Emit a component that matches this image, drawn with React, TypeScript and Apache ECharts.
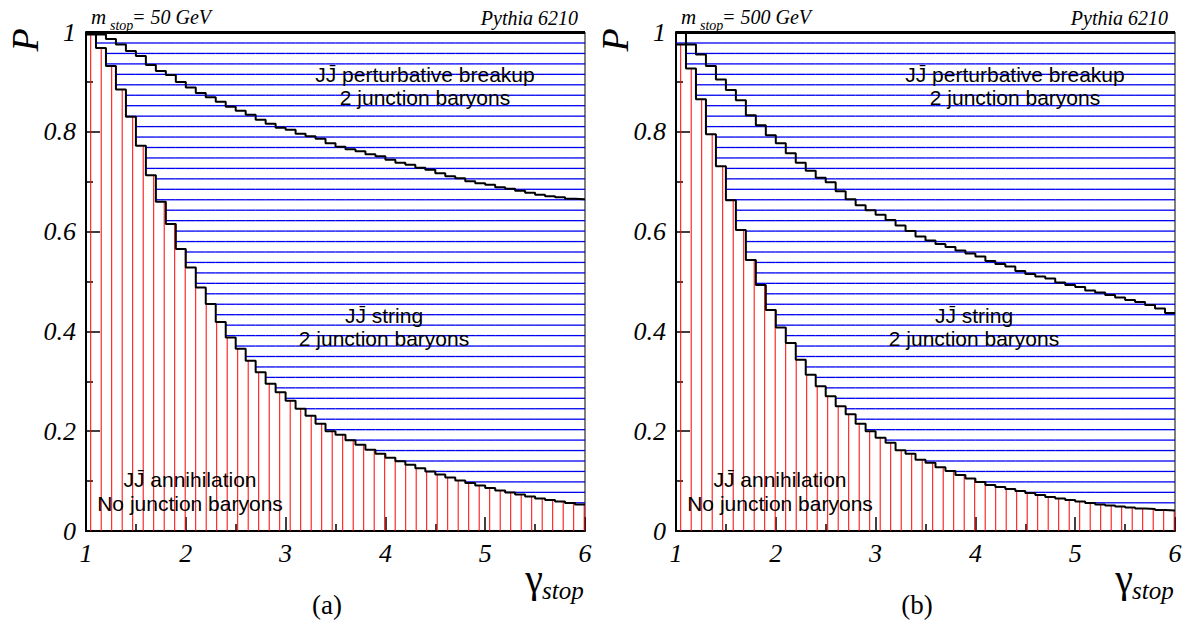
import React, { useEffect, useRef } from "react";
import * as echarts from "echarts";

// ---- axis ranges / binning ----
const X_MIN = 1;
const X_MAX = 6;
const BIN_WIDTH = 0.1;
const Y_MIN = 0;
const Y_MAX = 1;
const TOTAL_P = 1;

// ---- panel (a): m_stop = 50 GeV ----
// cumulative P below the "annihilation" boundary (lower staircase)
const annihilationA = [
  0.995, 0.968, 0.932, 0.885, 0.83, 0.772, 0.713, 0.66, 0.615, 0.565,
  0.528, 0.488, 0.455, 0.419, 0.388, 0.365, 0.341, 0.318, 0.295, 0.278,
  0.261, 0.245, 0.231, 0.215, 0.2, 0.193, 0.182, 0.173, 0.163, 0.155,
  0.147, 0.14, 0.133, 0.126, 0.119, 0.113, 0.107, 0.101, 0.096, 0.091,
  0.086, 0.081, 0.077, 0.073, 0.069, 0.065, 0.062, 0.059, 0.056, 0.053,
];
// cumulative P below the "perturbative breakup" boundary (upper staircase)
const stringA = [
  1.0, 0.995, 0.986, 0.975, 0.962, 0.952, 0.934, 0.922, 0.914, 0.9,
  0.889, 0.878, 0.869, 0.86, 0.85, 0.842, 0.834, 0.824, 0.816, 0.808,
  0.804, 0.796, 0.791, 0.786, 0.777, 0.77, 0.765, 0.761, 0.755, 0.751,
  0.744, 0.738, 0.734, 0.728, 0.724, 0.717, 0.711, 0.707, 0.701, 0.697,
  0.694, 0.689, 0.686, 0.682, 0.678, 0.674, 0.671, 0.669, 0.666, 0.665,
];

// ---- panel (b): m_stop = 500 GeV ----
const annihilationB = [
  0.975, 0.927, 0.865, 0.795, 0.731, 0.663, 0.603, 0.543, 0.493, 0.443,
  0.408, 0.377, 0.343, 0.313, 0.29, 0.27, 0.25, 0.234, 0.215, 0.2,
  0.187, 0.177, 0.162, 0.155, 0.143, 0.137, 0.128, 0.12, 0.112, 0.105,
  0.098, 0.092, 0.088, 0.084, 0.08, 0.076, 0.072, 0.068, 0.065, 0.062,
  0.059, 0.056, 0.053, 0.051, 0.049, 0.047, 0.045, 0.044, 0.042, 0.041,
];
const stringB = [
  1.0, 0.975, 0.955, 0.932, 0.905, 0.884, 0.863, 0.833, 0.813, 0.793,
  0.777, 0.757, 0.738, 0.722, 0.708, 0.699, 0.681, 0.665, 0.653, 0.643,
  0.634, 0.623, 0.612, 0.601, 0.59, 0.582, 0.575, 0.569, 0.562, 0.556,
  0.55, 0.541, 0.535, 0.53, 0.521, 0.515, 0.51, 0.506, 0.498, 0.493,
  0.489, 0.482, 0.478, 0.473, 0.468, 0.463, 0.459, 0.453, 0.446, 0.437,
];

const massLabels = ["= 50 GeV", "= 500 GeV"];
const panelLabels = ["(a)", "(b)"];
const generatorLabel = "Pythia 6210";
const regionLabels = [
  "JJ\u0304 perturbative breakup\n2 junction baryons",
  "JJ\u0304 string\n2 junction baryons",
  "JJ\u0304 annihilation\nNo junction baryons",
];

const panels = [
  { lower: annihilationA, upper: stringA, mass: massLabels[0], tag: panelLabels[0] },
  { lower: annihilationB, upper: stringB, mass: massLabels[1], tag: panelLabels[1] },
];

// ---- layout ----
const GRID_TOP = 32;
const GRID_SIZE = 499;
const GRID_LEFTS = [86, 676];
const HATCH_X = 10.5;
const HATCH_Y = 10.45;

const SERIF = '"Liberation Serif", "Times New Roman", serif';
const SANS = '"Liberation Sans", Arial, sans-serif';

function binLeft(i: number) {
  return +(X_MIN + i * BIN_WIDTH).toFixed(3);
}

function binsOf(values: number[]) {
  return values.map((v, i) => [binLeft(i), +(binLeft(i) + BIN_WIDTH).toFixed(3), v]);
}

function stepPoints(values: number[]) {
  const pts = values.map((v, i) => [binLeft(i), v]);
  pts.push([X_MAX, values[values.length - 1]]);
  return pts;
}

function hatchItem(params: any, api: any) {
  const left = api.value(0);
  const right = api.value(1);
  const low = api.value(2);
  const cs = params.coordSys;
  const a = api.coord([left, Y_MIN]);
  const b = api.coord([right, low]);
  const x0 = a[0];
  const x1 = b[0];
  const yBase = a[1];
  const yLow = b[1];
  const children: any[] = [];
  const rx0 = cs.x + 4.7;
  const k = Math.ceil((x0 - rx0) / HATCH_X - 1e-6);
  for (let X = rx0 + k * HATCH_X; X < x1 - 0.01; X += HATCH_X) {
    children.push({
      type: "line",
      shape: { x1: X, y1: yBase, x2: X, y2: yLow },
      style: { stroke: "#ff0000", lineWidth: 1 },
    });
  }
  for (let Y = cs.y + 11; Y < yLow - 0.01; Y += HATCH_Y) {
    children.push({
      type: "line",
      shape: { x1: x0, y1: Y, x2: x1, y2: Y },
      style: { stroke: "#0000f0", lineWidth: 1.3 },
    });
  }
  return { type: "group", children };
}

function textEl(text: string, x: number, y: number, font: any, align = "center") {
  return {
    type: "text",
    x,
    y,
    z: 100,
    silent: true,
    style: {
      text,
      fill: "#000",
      align,
      verticalAlign: "middle",
      ...font,
    },
  };
}

export default function App() {
  const ref = useRef<HTMLDivElement>(null);

  useEffect(() => {
    if (!ref.current) return;
    const chart = echarts.init(ref.current, undefined, { renderer: "svg" });

    const grids: any[] = [];
    const xAxes: any[] = [];
    const yAxes: any[] = [];
    const series: any[] = [];
    const graphics: any[] = [];

    const tickStyle = { color: "#000", width: 1.5 };
    const labelFont = {
      color: "#000",
      fontFamily: SERIF,
      fontStyle: "italic",
      fontSize: 26,
    };

    panels.forEach((p, idx) => {
      const left = GRID_LEFTS[idx];
      const dx = left - GRID_LEFTS[0];
      grids.push({
        left,
        top: GRID_TOP,
        width: GRID_SIZE,
        height: GRID_SIZE,
        show: true,
        borderColor: "#000",
        borderWidth: 1,
        backgroundColor: "transparent",
      });
      xAxes.push({
        type: "value",
        gridIndex: idx,
        min: X_MIN,
        max: X_MAX,
        interval: 1,
        axisLine: { show: true, onZero: false, lineStyle: { color: "#000", width: 2 } },
        axisTick: { show: true, inside: true, length: 14, lineStyle: tickStyle },
        minorTick: { show: true, splitNumber: 2, length: 7, lineStyle: tickStyle },
        splitLine: { show: false },
        axisLabel: { ...labelFont, margin: 9 },
      });
      yAxes.push({
        type: "value",
        gridIndex: idx,
        min: Y_MIN,
        max: Y_MAX,
        interval: 0.2,
        axisLine: { show: true, onZero: false, lineStyle: { color: "#000", width: 2 } },
        axisTick: { show: true, inside: true, length: 14, lineStyle: tickStyle },
        minorTick: { show: true, splitNumber: 2, length: 7, lineStyle: tickStyle },
        splitLine: { show: false },
        axisLabel: { ...labelFont, margin: 10 },
      });

      series.push({
        type: "custom",
        name: "hatch" + idx,
        xAxisIndex: idx,
        yAxisIndex: idx,
        renderItem: hatchItem,
        encode: { x: [0, 1], y: 2 },
        data: binsOf(p.lower),
        clip: true,
        silent: true,
        z: 1,
      });
      series.push({
        type: "line",
        name: "annihilation" + idx,
        xAxisIndex: idx,
        yAxisIndex: idx,
        step: "end",
        symbol: "none",
        data: stepPoints(p.lower),
        lineStyle: { color: "#000", width: 2 },
        silent: true,
        z: 5,
      });
      series.push({
        type: "line",
        name: "breakup" + idx,
        xAxisIndex: idx,
        yAxisIndex: idx,
        step: "end",
        symbol: "none",
        data: stepPoints(p.upper),
        lineStyle: { color: "#000", width: 2 },
        silent: true,
        z: 5,
        markLine: {
          symbol: "none",
          silent: true,
          label: { show: false },
          lineStyle: { color: "#000", width: 3, type: "solid" },
          data: [{ yAxis: TOTAL_P }],
        },
      });

      // axis titles & annotations
      graphics.push({
        type: "text",
        x: 25 + dx,
        y: 40,
        rotation: Math.PI / 2,
        silent: true,
        style: {
          text: "P",
          fill: "#000",
          align: "center",
          verticalAlign: "middle",
          fontFamily: SERIF,
          fontStyle: "italic",
          fontSize: 38,
        },
      });
      graphics.push(textEl("\u03b3", 534 + dx, 578, { fontFamily: SERIF, fontSize: 40 }));
      graphics.push(
        textEl("stop", 542 + dx, 590, { fontFamily: SERIF, fontStyle: "italic", fontSize: 25 }, "left")
      );
      graphics.push(textEl(p.tag, 327 + dx, 605, { fontFamily: SERIF, fontSize: 27 }));
      graphics.push(
        textEl("m", 91 + dx, 17, { fontFamily: SERIF, fontStyle: "italic", fontSize: 21 }, "left")
      );
      graphics.push(
        textEl("stop", 110 + dx, 25, { fontFamily: SERIF, fontStyle: "italic", fontSize: 14 }, "left")
      );
      graphics.push(
        textEl(p.mass, 132 + dx, 17, { fontFamily: SERIF, fontStyle: "italic", fontSize: 20 }, "left")
      );
      graphics.push(
        textEl(generatorLabel, 578 + dx, 18, { fontFamily: SERIF, fontStyle: "italic", fontSize: 20 }, "right")
      );
      const sans = { fontFamily: SANS, fontSize: 21, lineHeight: 23.5 };
      graphics.push(textEl(regionLabels[0], 425 + dx, 86, sans));
      graphics.push(textEl(regionLabels[1], 384 + dx, 327, sans));
      graphics.push(textEl(regionLabels[2], 190 + dx, 491.5, sans));
    });

    chart.setOption({
      animation: false,
      backgroundColor: "#fff",
      grid: grids,
      xAxis: xAxes,
      yAxis: yAxes,
      series,
      graphic: graphics,
    });

    return () => chart.dispose();
  }, []);

  return (
    <div
      ref={ref}
      style={{ position: "absolute", left: 0, top: 0, width: 1188, height: 625 }}
    />
  );
}
